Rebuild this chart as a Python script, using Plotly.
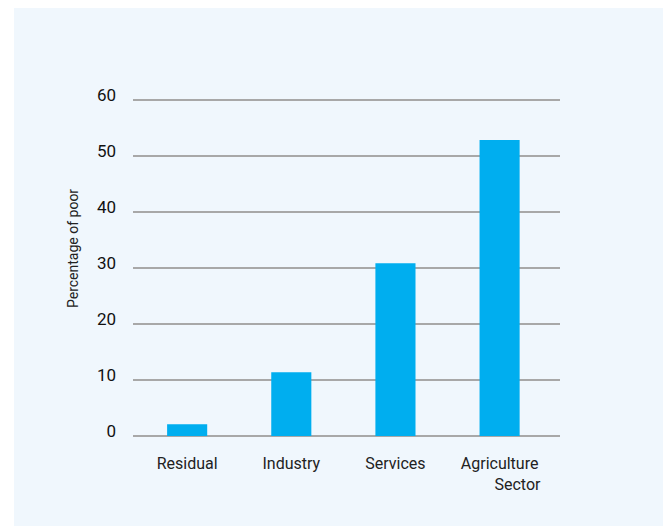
import plotly.graph_objects as go

categories = ["Residual", "Industry", "Services", "Agriculture<br>" + "\u00a0" * 9 + "Sector"]
share_of_poor = [2.1, 11.4, 30.9, 52.9]
y_ticks = [0, 10, 20, 30, 40, 50, 60]

BAR_COLOR = "#00AEEF"
PANEL_BG = "#F0F7FD"
GRID = "#A8A8A8"
FONT = "Roboto"

PLOT_H = 526 - 89 - 98

fig = go.Figure(
    go.Bar(
        x=list(range(len(categories))),
        y=share_of_poor,
        marker=dict(color=BAR_COLOR, line=dict(width=0)),
        width=0.385,
        hoverinfo="y",
    )
)

fig.update_layout(
    width=671,
    height=526,
    paper_bgcolor="white",
    plot_bgcolor=PANEL_BG,
    margin=dict(l=125, r=119, t=89, b=98),
    showlegend=False,
    font=dict(family=FONT, color="#222222"),
    # light panel behind the whole chart
    shapes=[dict(
        type="rect", xref="paper", yref="paper", layer="below",
        x0=-119 / 427, x1=536 / 427, y0=-98 / PLOT_H, y1=428 / PLOT_H,
        fillcolor=PANEL_BG, line=dict(width=0),
    )],
    # y title sits above the plot centre in the original, so place it by hand
    annotations=[dict(
        text="Percentage of poor", textangle=-90,
        xref="paper", yref="paper", x=-60 / 427, y=187 / PLOT_H,
        xanchor="center", yanchor="middle", showarrow=False,
        font=dict(size=14, family=FONT, color="#222222"),
    )],
)

fig.update_xaxes(
    range=[-0.52, 3.58],
    tickmode="array",
    tickvals=list(range(len(categories))),
    ticktext=categories,
    tickfont=dict(size=16, family=FONT, color="#222222"),
    showgrid=False,
    zeroline=False,
    showline=False,
    ticks="outside",
    ticklen=13,
    tickcolor="rgba(0,0,0,0)",
    automargin=False,
)

fig.update_yaxes(
    range=[0, 60.6],
    tickmode="array",
    tickvals=y_ticks,
    tickfont=dict(size=17, family=FONT, color="#111111"),
    showgrid=True,
    gridcolor=GRID,
    gridwidth=1.5,
    zeroline=True,
    zerolinecolor=GRID,
    zerolinewidth=1.5,
    showline=False,
    ticklabelstandoff=16,
    ticklabelshift=-5,
    automargin=False,
)

fig.write_html("out.html")
